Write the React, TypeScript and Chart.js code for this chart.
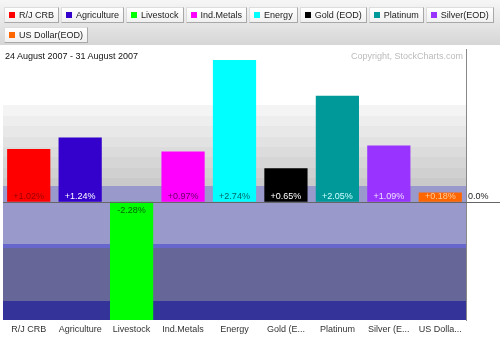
import React, { useEffect, useRef } from "react";
import { Chart, registerables } from "chart.js";

Chart.register(...registerables);

const categories = ["R/J CRB", "Agriculture", "Livestock", "Ind.Metals", "Energy", "Gold (EOD)", "Platinum", "Silver (EOD)", "US Dollar (EOD)"];
const xTickLabels = ["R/J CRB", "Agriculture", "Livestock", "Ind.Metals", "Energy", "Gold (E...", "Platinum", "Silver (E...", "US Dolla..."];
const legendRow1 = ["R/J CRB", "Agriculture", "Livestock", "Ind.Metals", "Energy", "Gold (EOD)", "Platinum", "Silver(EOD)"];
const legendRow2 = ["US Dollar(EOD)"];
const values = [1.02, 1.24, -2.28, 0.97, 2.74, 0.65, 2.05, 1.09, 0.18];
const barColors = ["#ff0000", "#3300cc", "#00ff00", "#ff00ff", "#00ffff", "#000000", "#009999", "#9933ff", "#ff6600"];
const valueLabelColors = ["#990000", "#ffffff", "#006600", "#660066", "#006666", "#ffffff", "#ccffff", "#f0e0ff", "#ffcc99"];
const yMin = -2.28;
const yMax = 2.95;
const bandEdges = [1.86, 1.66, 1.46, 1.26, 1.06, 0.86, 0.66, 0.46, 0.3, -0.81, -0.9, -1.91, -2.28];
const bandColors = ["#f4f4f4", "#eeeeee", "#e8e8e8", "#e2e2e2", "#dcdcdc", "#d6d6d6", "#d0d0d0", "#cacaca", "#9999cc", "#6666cc", "#666699", "#333399"];
const dateText = "24 August 2007 - 31 August 2007";
const copyrightText = "Copyright, StockCharts.com";

const FONT = "'Liberation Sans', Arial, sans-serif";

const fmt = (v: number) => (v >= 0 ? "+" : "") + v.toFixed(2) + "%";

const bgPlugin = {
  id: "bands",
  beforeDatasetsDraw(chart: any) {
    const { ctx, chartArea, scales } = chart;
    const y = scales.y;
    ctx.save();
    for (let i = 0; i < bandColors.length; i++) {
      const t = y.getPixelForValue(bandEdges[i]);
      const b = y.getPixelForValue(bandEdges[i + 1]);
      ctx.fillStyle = bandColors[i];
      ctx.fillRect(chartArea.left, Math.round(t), chartArea.right - chartArea.left, Math.round(b) - Math.round(t));
    }
    ctx.restore();
  },
  afterDatasetsDraw(chart: any) {
    const { ctx, chartArea, scales } = chart;
    const y0 = Math.round(scales.y.getPixelForValue(0)) + 0.5;
    ctx.save();
    ctx.strokeStyle = "#666666";
    ctx.lineWidth = 1;
    ctx.beginPath();
    ctx.moveTo(chartArea.left, y0);
    ctx.lineTo(chart.width, y0);
    ctx.stroke();
    const meta = chart.getDatasetMeta(0);
    ctx.font = `9px ${FONT}`;
    ctx.textAlign = "center";
    ctx.textBaseline = "middle";
    meta.data.forEach((bar: any, i: number) => {
      const v = values[i];
      ctx.fillStyle = valueLabelColors[i];
      const ty = v >= 0 ? y0 - 6 : y0 + 8;
      ctx.fillText(fmt(v), bar.x, ty);
    });
    ctx.restore();
  },
};

function LegendButton({ label, color }: { label: string; color: string }) {
  return (
    <div
      style={{
        display: "flex",
        alignItems: "center",
        height: 16,
        boxSizing: "border-box",
        padding: "0 4px 0 4px",
        background: "linear-gradient(#ffffff, #f0f0f0)",
        border: "1px solid #dddddd",
        borderRightColor: "#a8a8a8",
        borderBottomColor: "#a8a8a8",
        marginRight: 2,
        whiteSpace: "nowrap",
      }}
    >
      <span style={{ display: "inline-block", width: 6, height: 6, background: color, marginRight: 4 }} />
      <span style={{ font: `9px ${FONT}`, color: "#222" }}>{label}</span>
    </div>
  );
}

export default function App() {
  const ref = useRef<HTMLCanvasElement>(null);
  useEffect(() => {
    if (!ref.current) return;
    const chart = new Chart(ref.current, {
      type: "bar",
      data: {
        labels: categories,
        datasets: [
          {
            data: values,
            backgroundColor: barColors,
            borderWidth: 0,
            barPercentage: 0.84,
            categoryPercentage: 1,
          },
        ],
      },
      options: {
        animation: false,
        responsive: false,
        devicePixelRatio: 1,
        layout: { padding: { left: 3, top: 49, right: 0, bottom: 0 } },
        plugins: { legend: { display: false }, tooltip: { enabled: false } },
        scales: {
          x: {
            grid: { display: false, drawTicks: false },
            border: { display: false },
            ticks: {
              autoSkip: false,
              maxRotation: 0,
              padding: 4,
              color: "#333333",
              font: { family: FONT, size: 9 },
              callback: (_v: any, i: number) => xTickLabels[i],
            },
            afterFit: (s: any) => {
              s.height = 21;
            },
          },
          y: {
            position: "right",
            min: yMin,
            max: yMax,
            grid: { display: false, drawTicks: false },
            border: { display: true, color: "#888888" },
            afterBuildTicks: (s: any) => {
              s.ticks = [{ value: 0 }];
            },
            ticks: {
              padding: 2,
              labelOffset: -5,
              color: "#222222",
              font: { family: FONT, size: 9 },
              callback: () => "0.0%",
            },
            afterFit: (s: any) => {
              s.width = 34;
            },
          },
        },
      },
      plugins: [bgPlugin],
    } as any);
    return () => chart.destroy();
  }, []);

  return (
    <div style={{ position: "fixed", left: 0, top: 0, width: 500, height: 341, background: "#fff", overflow: "hidden" }}>
      <canvas ref={ref} width={500} height={341} style={{ position: "absolute", left: 0, top: 0 }} />
      <div style={{ position: "absolute", left: 0, top: 0, width: 500, height: 45, background: "linear-gradient(#f6f6f6, #d6d6d6)" }} />
      <div style={{ position: "absolute", left: 4, top: 7, display: "flex" }}>
        {legendRow1.map((l, i) => (
          <LegendButton key={l} label={l} color={barColors[i]} />
        ))}
      </div>
      <div style={{ position: "absolute", left: 4, top: 27, display: "flex" }}>
        {legendRow2.map((l, i) => (
          <LegendButton key={l} label={l} color={barColors[legendRow1.length + i]} />
        ))}
      </div>
      <div style={{ position: "absolute", left: 5, top: 51, font: `9px ${FONT}`, color: "#111" }}>{dateText}</div>
      <div style={{ position: "absolute", right: 37, top: 51, font: `9px ${FONT}`, color: "#bbbbbb" }}>{copyrightText}</div>
    </div>
  );
}
